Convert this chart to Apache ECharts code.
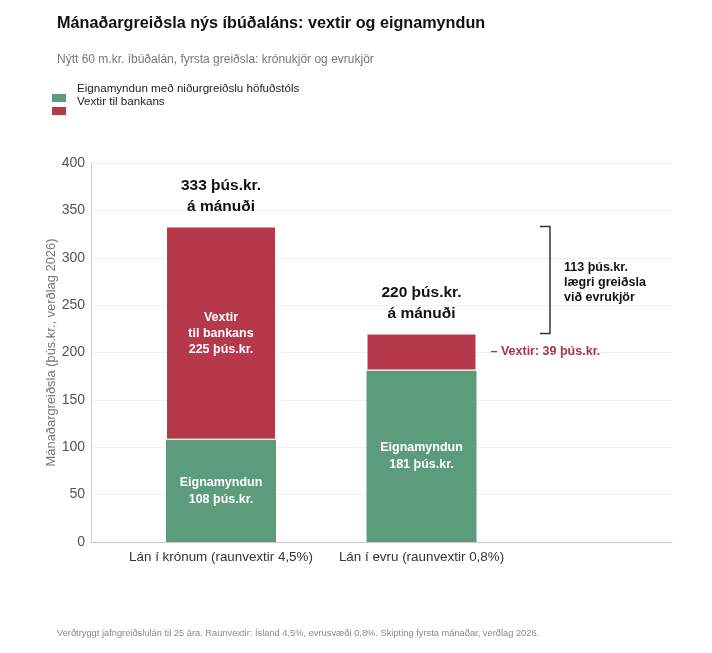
<!DOCTYPE html>
<html>
<head>
<meta charset="utf-8">
<script src="https://cdn.jsdelivr.net/npm/echarts@6/dist/echarts.min.js"></script>
<style>
  html, body { margin: 0; padding: 0; background: #fff; }
  #main { width: 712px; height: 653px; }
</style>
</head>
<body>
<div id="main"></div>
<script>
// gögn lesin af myndinni
const categories = ['Lán í krónum (raunvextir 4,5%)', 'Lán í evru (raunvextir 0,8%)'];
const eignamyndun = [108, 181];
const vextir = [225, 39];
const totals = [333, 220];
const bracketRange = [220, 333];  // munur 113
const bracketX = 0.79;            // staða sviga á bakgrunnsás (0..1)

const GREEN = '#5c9c7c';
const RED = '#b5384b';
const FONT = '"Liberation Sans", Arial, sans-serif';
// tákn með tómu bili ofan við ferninginn svo textinn sitji ofar
const LEGEND_ICON = 'path://M0,0L20,0L20,0Z M0,18L14,18L14,26L0,26Z';

const chart = echarts.init(document.getElementById('main'));

function legendFor(name, top) {
  return {
    data: [name],
    left: 52, top: top, padding: 0,
    itemWidth: 20, itemHeight: 26, itemGap: 0,
    icon: LEGEND_ICON,
    itemStyle: { borderWidth: 0 },
    selectedMode: false,
    textStyle: { fontSize: 11.6, color: '#222', fontFamily: FONT }
  };
}

const option = {
  backgroundColor: '#fff',
  textStyle: { fontFamily: FONT },
  animation: false,
  title: [
    {
      text: 'Mánaðargreiðsla nýs íbúðaláns: vextir og eignamyndun',
      left: 57, top: 15.5, padding: 0,
      textStyle: { fontSize: 16.2, fontWeight: 'bold', color: '#111', fontFamily: FONT }
    },
    {
      text: 'Nýtt 60 m.kr. íbúðalán, fyrsta greiðsla: krónukjör og evrukjör',
      left: 57, top: 54, padding: 0,
      textStyle: { fontSize: 12, fontWeight: 'normal', color: '#777', fontFamily: FONT }
    },
    {
      text: 'Verðtryggt jafngreiðslulán til 25 ára. Raunvextir: Ísland 4,5%, evrusvæði 0,8%. Skipting fyrsta mánaðar, verðlag 2026.',
      left: 57, top: 629, padding: 0,
      textStyle: { fontSize: 9.3, fontWeight: 'normal', color: '#888', fontFamily: FONT }
    }
  ],
  legend: [
    legendFor('Eignamyndun með niðurgreiðslu höfuðstóls', 76),
    legendFor('Vextir til bankans', 89)
  ],
  grid: [
    { left: 91, right: 40, top: 163, bottom: 111 },      // rammi, ásar og hnitalínur
    { left: 120.75, right: 190.25, top: 163, bottom: 111 } // súlur
  ],
  xAxis: [
    {
      gridIndex: 0,
      type: 'value', min: 0, max: 1,
      splitLine: { show: false },
      axisTick: { show: false },
      axisLabel: { show: false },
      axisLine: { show: true, lineStyle: { color: '#c8c8c8', width: 1 } }
    },
    {
      gridIndex: 1,
      type: 'category',
      data: categories,
      axisLine: { show: false },
      axisTick: { show: false },
      axisLabel: { interval: 0, hideOverlap: false, fontSize: 13.4, color: '#333', margin: 9 }
    }
  ],
  yAxis: [
    {
      gridIndex: 0,
      type: 'value',
      min: 0, max: 400, interval: 50,
      name: 'Mánaðargreiðsla (þús.kr., verðlag 2026)',
      nameLocation: 'middle',
      nameGap: 33,
      nameMoveOverlap: false,
      nameTextStyle: { fontSize: 12.9, color: '#777' },
      axisLine: { show: true, onZero: false, lineStyle: { color: '#cfcfcf' } },
      axisTick: { show: false },
      axisLabel: { fontSize: 14, color: '#555', margin: 6 },
      splitLine: { show: true, lineStyle: { color: '#f0f0f0', width: 1 } }
    },
    {
      gridIndex: 1,
      type: 'value',
      min: 0, max: 400,
      show: false,
      splitLine: { show: false }
    }
  ],
  series: [
    {
      name: 'Eignamyndun með niðurgreiðslu höfuðstóls',
      type: 'bar',
      xAxisIndex: 1, yAxisIndex: 1,
      stack: 'greidsla',
      barWidth: 110,
      itemStyle: { color: GREEN },
      data: eignamyndun,
      label: {
        show: true,
        position: 'inside',
        color: '#fff',
        fontWeight: 'bold',
        fontSize: 12.5,
        lineHeight: 17,
        formatter: p => 'Eignamyndun\n' + eignamyndun[p.dataIndex] + ' þús.kr.'
      }
    },
    {
      name: 'Vextir til bankans',
      type: 'bar',
      xAxisIndex: 1, yAxisIndex: 1,
      stack: 'greidsla',
      barWidth: 110,
      itemStyle: { color: RED, borderColor: '#fff', borderWidth: 1 },
      data: vextir.map((v, i) => {
        const item = { value: v };
        if (i === 1) {
          item.label = {
            position: 'right',
            distance: 14,
            color: '#a8334a',
            fontSize: 12.5,
            formatter: '– Vextir: ' + v + ' þús.kr.'
          };
        }
        return item;
      }),
      label: {
        show: true,
        position: 'inside',
        color: '#fff',
        fontWeight: 'bold',
        fontSize: 12.5,
        lineHeight: 16,
        formatter: p => 'Vextir\ntil bankans\n' + vextir[p.dataIndex] + ' þús.kr.'
      }
    },
    {
      name: 'samtals',
      type: 'scatter',
      xAxisIndex: 1, yAxisIndex: 1,
      symbolSize: 0,
      silent: true,
      itemStyle: { opacity: 1 },
      data: totals,
      label: {
        show: true,
        position: 'top',
        distance: 9,
        color: '#111',
        fontWeight: 'bold',
        fontSize: 15.5,
        lineHeight: 21,
        formatter: p => totals[p.dataIndex] + ' þús.kr.\ná mánuði'
      }
    },
    {
      name: 'munur',
      type: 'custom',
      xAxisIndex: 0, yAxisIndex: 0,
      silent: true,
      data: [[bracketX, bracketRange[0], bracketRange[1]]],
      renderItem: (params, api) => {
        const lo = api.coord([api.value(0), api.value(1)]);
        const hi = api.coord([api.value(0), api.value(2)]);
        const diff = api.value(2) - api.value(1);
        return {
          type: 'group',
          children: [
            {
              type: 'polyline',
              shape: { points: [[hi[0] - 10, hi[1]], [hi[0], hi[1]], [lo[0], lo[1]], [lo[0] - 10, lo[1]]] },
              style: { stroke: '#333', lineWidth: 1.5, fill: null }
            },
            {
              type: 'text',
              x: hi[0] + 14,
              y: (hi[1] + lo[1]) / 2 + 3,
              style: {
                text: Math.round(diff) + ' þús.kr.\nlægri greiðsla\nvið evrukjör',
                fill: '#111',
                font: 'bold 12.5px ' + FONT,
                lineHeight: 15,
                verticalAlign: 'middle',
                align: 'left'
              }
            }
          ]
        };
      }
    }
  ]
};

chart.setOption(option);
</script>
</body>
</html>
